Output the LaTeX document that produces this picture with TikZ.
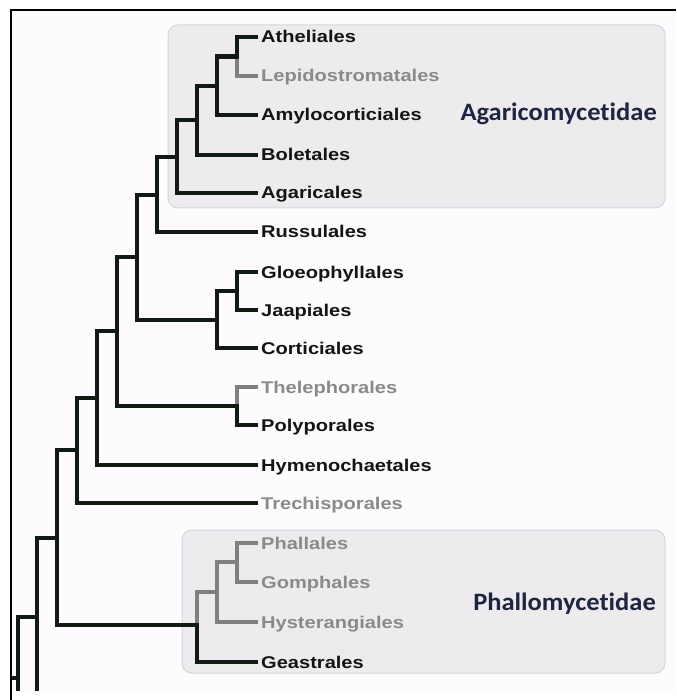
\documentclass[tikz,border=0pt]{standalone}
\usepackage{fontspec}
\newfontfamily\labfont[FakeStretch=1.18]{Liberation Sans}
\newfontfamily\cladefont[FakeStretch=1.06,Ligatures=CommonOff]{Carlito}
\definecolor{treeblack}{HTML}{121A14}
\definecolor{treegrey}{HTML}{808080}
\definecolor{labblack}{HTML}{141414}
\definecolor{labgrey}{HTML}{8A8A8A}
\definecolor{boxfill}{HTML}{EDEBEE}
\definecolor{boxline}{HTML}{D6D5D9}
\definecolor{bgpink}{HTML}{FDFBFD}
\definecolor{cladecol}{HTML}{1F2440}
\tikzset{
  br/.style={line width=4.6pt, draw=treeblack, line cap=rect, line join=miter},
  gbr/.style={br, draw=treegrey},
  leaf/.style={anchor=base west, inner sep=0pt, text=labblack,
    font={\labfont\bfseries\fontsize{17}{20}\selectfont}},
  gleaf/.style={leaf, text=labgrey},
  cladebox/.style={draw=boxline, fill=boxfill, line width=1pt, rounded corners=10pt},
  cladelab/.style={anchor=base east, inner sep=0pt, text=cladecol,
    font={\cladefont\bfseries\fontsize{25}{28}\selectfont}},
  frameline/.style={draw=black, line width=1.6pt}
}
\begin{document}
\begin{tikzpicture}[x=1pt,y=-1pt]
\useasboundingbox (0,0) rectangle (676,700);
\fill[white] (0,0) rectangle (676,700);
\fill[bgpink] (11,10) rectangle (676,692);
% clade boxes
\draw[cladebox] (168,25) rectangle (665,208);
\draw[cladebox] (182,530) rectangle (665,673);
% leaf tips
\coordinate (t0) at (256,37);
\coordinate (t1) at (256,76);
\coordinate (t2) at (256,115);
\coordinate (t3) at (256,155);
\coordinate (t4) at (256,193);
\coordinate (t5) at (256,232);
\coordinate (t6) at (256,272);
\coordinate (t7) at (256,310);
\coordinate (t8) at (256,348);
\coordinate (t9) at (256,387);
\coordinate (t10) at (256,425);
\coordinate (t11) at (256,465);
\coordinate (t12) at (256,503);
\coordinate (t13) at (256,543);
\coordinate (t14) at (256,582);
\coordinate (t15) at (256,622);
\coordinate (t16) at (256,662);
% internal nodes
\coordinate (n1) at (237,56.5);
\coordinate (n2) at (217,86);
\coordinate (n3) at (197,120);
\coordinate (n4) at (177,157);
\coordinate (n5) at (157,195);
\coordinate (n6) at (237,291);
\coordinate (n7) at (217,320);
\coordinate (n8) at (137,257);
\coordinate (n9) at (237,406);
\coordinate (n10) at (117,331);
\coordinate (n11) at (97,398);
\coordinate (n12) at (77,450);
\coordinate (n13) at (237,562);
\coordinate (n14) at (217,592);
\coordinate (n15) at (197,625);
\coordinate (n16) at (57,538);
\coordinate (n17) at (37,617);
\coordinate (n18) at (18,678);
\coordinate (x17) at (37,700);
\coordinate (x18) at (18,740);
\coordinate (root) at (0,678);
\begin{scope}
\clip (11,10) rectangle (676,690);
% Agaricomycetidae
\draw[br] (n1) |- (t0);
\draw[gbr] (n1) |- (t1);
\draw[br] (n2) |- (n1);
\draw[br] (n2) |- (t2);
\draw[br] (n3) |- (n2);
\draw[br] (n3) |- (t3);
\draw[br] (n4) |- (n3);
\draw[br] (n4) |- (t4);
\draw[br] (n5) |- (n4);
\draw[br] (n5) |- (t5);
% Gloeophyllales group
\draw[br] (n6) |- (t6);
\draw[br] (n6) |- (t7);
\draw[br] (n7) |- (n6);
\draw[br] (n7) |- (t8);
\draw[br] (n8) |- (n5);
\draw[br] (n8) |- (n7);
% Thelephorales / Polyporales
\draw[br] (n9) |- (t10);
\draw[gbr] (n9) |- (t9);
\draw[br] (n10) |- (n8);
\draw[br] (n10) |- (n9);
\draw[br] (n11) |- (n10);
\draw[br] (n11) |- (t11);
\draw[br] (n12) |- (n11);
\draw[br] (n12) |- (t12);
% Phallomycetidae
\draw[gbr] (n13) |- (t13);
\draw[gbr] (n13) |- (t14);
\draw[gbr] (n14) |- (n13);
\draw[gbr] (n14) |- (t15);
\draw[br] (n15) |- (t16);
\draw[gbr] (n15) |- (n14);
\draw[br] (n16) |- (n12);
\draw[br] (n16) |- (n15);
% root
\draw[br] (n17) |- (n16);
\draw[br] (n17) -- (x17);
\draw[br] (n18) |- (n17);
\draw[br] (n18) -- (x18);
\draw[br] (n18) -- (root);
\end{scope}
% frame
\draw[frameline] (10,10) -- (676,10);
\draw[frameline] (10.7,10) -- (10.7,700);
% labels
\node[leaf]  (L0)  at (261,43) {Atheliales};
\node[gleaf] (L1)  at (261,82) {Lepidostromatales};
\node[leaf]  (L2)  at (261,121) {Amylocorticiales};
\node[leaf]  (L3)  at (261,161) {Boletales};
\node[leaf]  (L4)  at (261,199) {Agaricales};
\node[leaf]  (L5)  at (261,238) {Russulales};
\node[leaf]  (L6)  at (261,278) {Gloeophyllales};
\node[leaf]  (L7)  at (261,316) {Jaapiales};
\node[leaf]  (L8)  at (261,354) {Corticiales};
\node[gleaf] (L9)  at (261,393) {Thelephorales};
\node[leaf]  (L10) at (261,431) {Polyporales};
\node[leaf]  (L11) at (261,471) {Hymenochaetales};
\node[gleaf] (L12) at (261,509) {Trechisporales};
\node[gleaf] (L13) at (261,549) {Phallales};
\node[gleaf] (L14) at (261,588) {Gomphales};
\node[gleaf] (L15) at (261,628) {Hysterangiales};
\node[leaf]  (L16) at (261,668) {Geastrales};
\node[cladelab] (C1) at (657,121) {Agaricomycetidae};
\node[cladelab] (C2) at (656,610) {Phallomycetidae};
\end{tikzpicture}
\end{document}
